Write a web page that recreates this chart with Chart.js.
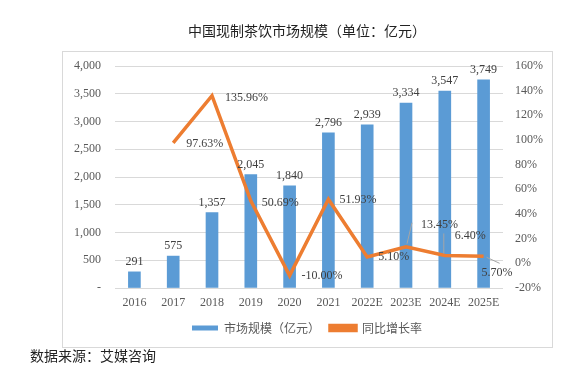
<!DOCTYPE html>
<html>
<head>
<meta charset="utf-8">
<script src="https://cdn.jsdelivr.net/npm/chart.js@4/dist/chart.umd.min.js"></script>
<style>
  html, body { margin: 0; padding: 0; background: #fff; }
  #wrap { width: 587px; height: 376px; position: relative; }
</style>
</head>
<body>
<div id="wrap"><canvas id="teaChart" width="587" height="376"></canvas></div>
<script>
// data
const years = ['2016', '2017', '2018', '2019', '2020', '2021', '2022E', '2023E', '2024E', '2025E'];
const marketSize = [291, 575, 1357, 2045, 1840, 2796, 2939, 3334, 3547, 3749];
const growthRate = [null, 97.63, 135.96, 50.69, -10.00, 51.93, 5.10, 13.45, 6.40, 5.70];

const titleText = '中国现制茶饮市场规模（单位：亿元）';
const sourceText = '数据来源：艾媒咨询';
const barLabel = '市场规模（亿元）';
const lineLabel = '同比增长率';

// where each growth label sits relative to its point (style only)
const rateLabelOffset = [null, [13, 1], [13, 2], [11, 2], [12, 0], [11, 1], [11, 0], [15, -22], [10, -20], [-2, 17]];
// thin grey leader lines for the crowded labels [dx1, dy1, dx2, dy2]
const rateLeader = [null, null, null, null, null, null, null, [6, -24, 1, -3], [-1, -22, -1, -2], [3, 1, 16, 7]];

const serif = "'Liberation Serif', 'Noto Sans CJK SC', serif";
const cjk = "'Noto Sans CJK SC', sans-serif";

// frame, title, source, data labels
const decorPlugin = {
  id: 'decor',
  beforeDraw(chart) {
    const ctx = chart.ctx;
    ctx.save();
    ctx.fillStyle = '#fff';
    ctx.fillRect(0, 0, chart.width, chart.height);
    ctx.strokeStyle = '#d9d9d9';
    ctx.lineWidth = 1;
    ctx.strokeRect(62.5, 51.5, 490, 296);
    ctx.fillStyle = '#222';
    ctx.font = '14px ' + cjk;
    ctx.textAlign = 'center';
    ctx.textBaseline = 'middle';
    ctx.fillText(titleText, 307, 31);
    ctx.textAlign = 'left';
    ctx.fillText(sourceText, 30, 356);
    ctx.restore();
  },
  afterDatasetsDraw(chart) {
    const ctx = chart.ctx;
    ctx.save();
    ctx.font = '12px ' + serif;
    ctx.fillStyle = '#404040';

    // bar values
    const bars = chart.getDatasetMeta(0).data;
    ctx.textAlign = 'center';
    ctx.textBaseline = 'bottom';
    bars.forEach((bar, i) => {
      ctx.fillText(marketSize[i].toLocaleString('en-US'), bar.x, bar.y - 4);
    });

    // growth values
    const pts = chart.getDatasetMeta(1).data;
    ctx.textAlign = 'left';
    ctx.textBaseline = 'middle';
    pts.forEach((pt, i) => {
      if (growthRate[i] === null) return;
      const off = rateLabelOffset[i];
      const lead = rateLeader[i];
      if (lead) {
        ctx.strokeStyle = '#a6a6a6';
        ctx.lineWidth = 1;
        ctx.beginPath();
        ctx.moveTo(pt.x + lead[0], pt.y + lead[1]);
        ctx.lineTo(pt.x + lead[2], pt.y + lead[3]);
        ctx.stroke();
      }
      ctx.fillText(growthRate[i].toFixed(2) + '%', pt.x + off[0], pt.y + off[1]);
    });
    ctx.restore();
  }
};

const ctx = document.getElementById('teaChart').getContext('2d');
const teaChart = new Chart(ctx, {
  type: 'bar',
  data: {
    labels: years,
    datasets: [
      {
        label: barLabel,
        data: marketSize,
        backgroundColor: '#5b9bd5',
        barThickness: 12,
        yAxisID: 'y',
        order: 1
      },
      {
        type: 'line',
        label: lineLabel,
        data: growthRate,
        borderColor: '#ed7d31',
        backgroundColor: '#ed7d31',
        borderWidth: 3.5,
        pointRadius: 0,
        tension: 0,
        yAxisID: 'y1',
        order: 0
      }
    ]
  },
  plugins: [decorPlugin],
  options: {
    responsive: false,
    animation: false,
    layout: { padding: { left: 62, right: 35, top: 66, bottom: 32 } },
    plugins: {
      title: { display: false },
      tooltip: { enabled: false },
      legend: {
        position: 'bottom',
        labels: {
          boxWidth: 26,
          boxHeight: 5,
          padding: 10,
          color: '#595959',
          font: { family: cjk, size: 12 },
          sort: (a, b) => a.datasetIndex - b.datasetIndex
        }
      }
    },
    scales: {
      x: {
        grid: { display: false },
        border: { display: false },
        ticks: { color: '#595959', font: { family: serif, size: 12 }, padding: 0, maxRotation: 0 },
        afterFit(scale) { scale.height = 24; }
      },
      y: {
        position: 'left',
        min: 0,
        max: 4000,
        grid: { color: '#d9d9d9', drawTicks: false },
        border: { display: false },
        ticks: {
          stepSize: 500,
          padding: 14,
          color: '#595959',
          font: { family: serif, size: 12 },
          callback: (v) => v === 0 ? '-' : v.toLocaleString('en-US')
        },
        afterFit(scale) { scale.width = 53; }
      },
      y1: {
        position: 'right',
        min: -20,
        max: 160,
        grid: { display: false, drawTicks: false },
        border: { display: false },
        ticks: {
          stepSize: 20,
          padding: 12,
          color: '#595959',
          font: { family: serif, size: 12 },
          callback: (v) => v + '%'
        },
        afterFit(scale) { scale.width = 49; }
      }
    }
  }
});
</script>
</body>
</html>
